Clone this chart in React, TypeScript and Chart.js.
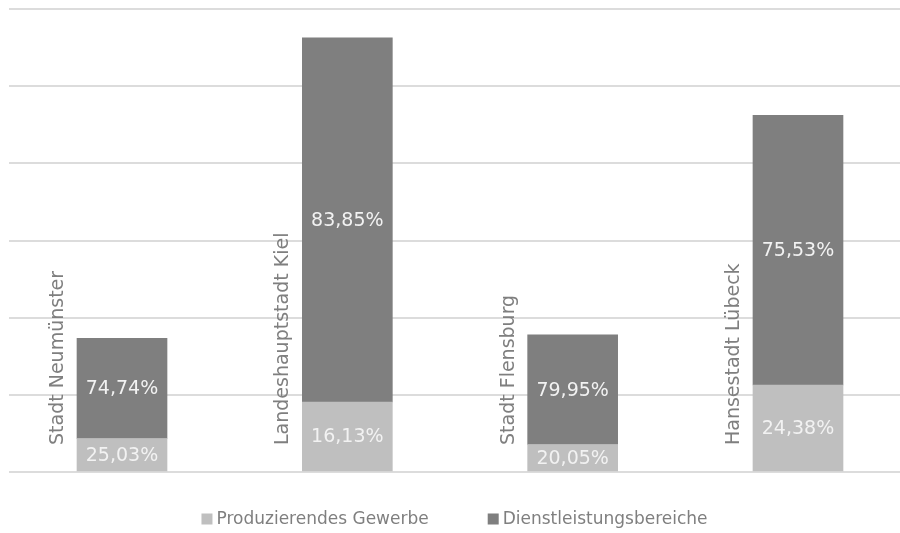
import React, { useEffect, useRef } from "react";
import { Chart, registerables } from "chart.js";

Chart.register(...registerables);

const categories = ["Stadt Neumünster", "Landeshauptstadt Kiel", "Stadt Flensburg", "Hansestadt Lübeck"];
const seriesNames = ["Produzierendes Gewerbe", "Dienstleistungsbereiche"];
const produzierendes = [13040, 27230, 10700, 33830];
const dienstleistung = [38930, 141560, 42670, 104820];
const produzierendesPct = [25.03, 16.13, 20.05, 24.38];
const dienstleistungPct = [74.74, 83.85, 79.95, 75.53];
const yMax = 180000;
const yStep = 30000;

const FONT = "'DejaVu Sans', Verdana, sans-serif";
const COLORS = ["#bfbfbf", "#7f7f7f"];

const fmtPct = (v: number) => v.toFixed(2).replace(".", ",") + "%";

const labelsPlugin = {
  id: "customLabels",
  afterDatasetsDraw(chart: any) {
    const ctx = chart.ctx;
    const pcts = [produzierendesPct, dienstleistungPct];
    ctx.save();
    // data labels
    ctx.font = `19px ${FONT}`;
    ctx.fillStyle = "#f2f2f2";
    ctx.textAlign = "center";
    ctx.textBaseline = "middle";
    chart.data.datasets.forEach((ds: any, di: number) => {
      const meta = chart.getDatasetMeta(di);
      meta.data.forEach((el: any, i: number) => {
        const cy = (el.y + el.base) / 2 + 1;
        ctx.fillText(fmtPct(pcts[di][i]), el.x, cy);
      });
    });
    // category labels (rotated)
    const meta0 = chart.getDatasetMeta(0);
    ctx.fillStyle = "#7f7f7f";
    ctx.textAlign = "left";
    ctx.textBaseline = "alphabetic";
    meta0.data.forEach((el: any, i: number) => {
      const x = el.x - el.width / 2 - 14;
      const y = chart.chartArea.bottom - 27;
      ctx.save();
      ctx.translate(x, y);
      ctx.rotate(-Math.PI / 2);
      ctx.fillText(categories[i], 0, 0);
      ctx.restore();
    });
    // legend
    ctx.font = `17px ${FONT}`;
    ctx.textBaseline = "middle";
    const box = 11;
    const gap = 4;
    const itemGap = 59;
    const widths = chart.data.datasets.map((d: any) => ctx.measureText(d.label).width);
    const total = widths.reduce((a: number, w: number) => a + box + gap + w, 0) + itemGap * (widths.length - 1);
    const cx = (chart.chartArea.left + chart.chartArea.right) / 2;
    let x = cx - total / 2;
    const ly = 519;
    chart.data.datasets.forEach((d: any, di: number) => {
      ctx.fillStyle = d.backgroundColor;
      ctx.fillRect(x, ly - box / 2, box, box);
      ctx.fillStyle = "#7f7f7f";
      ctx.fillText(d.label, x + box + gap, ly + 1);
      x += box + gap + widths[di] + itemGap;
    });
    ctx.restore();
  },
};

export default function App() {
  const ref = useRef<HTMLCanvasElement | null>(null);
  useEffect(() => {
    if (!ref.current) return;
    const chart = new Chart(ref.current, {
      type: "bar",
      data: {
        datasets: [
          {
            label: seriesNames[0],
            data: produzierendes.map((v, i) => ({ x: i, y: v })),
            backgroundColor: COLORS[0],
            barThickness: 90,
          },
          {
            label: seriesNames[1],
            data: dienstleistung.map((v, i) => ({ x: i, y: v })),
            backgroundColor: COLORS[1],
            barThickness: 90,
          },
        ],
      },
      options: {
        responsive: false,
        animation: false,
        layout: { padding: { left: 9, right: 0, top: 9, bottom: 61 } },
        plugins: { legend: { display: false }, tooltip: { enabled: false } },
        scales: {
          x: {
            type: "linear",
            min: -0.5015,
            max: 3.4527,
            offset: false,
            bounds: "data",
            grace: 0,
            stacked: true,
            display: false,
          },
          y: {
            stacked: true,
            min: 0,
            max: yMax,
            ticks: { display: false, stepSize: yStep },
            grid: { color: "#dcdcdc", lineWidth: 2, drawTicks: false },
            border: { display: false },
          },
        },
      },
      plugins: [labelsPlugin],
    });
    return () => chart.destroy();
  }, []);
  return (
    <div style={{ position: "absolute", left: 0, top: 0, width: 900, height: 533, background: "#fff" }}>
      <canvas ref={ref} width={900} height={533} />
    </div>
  );
}
